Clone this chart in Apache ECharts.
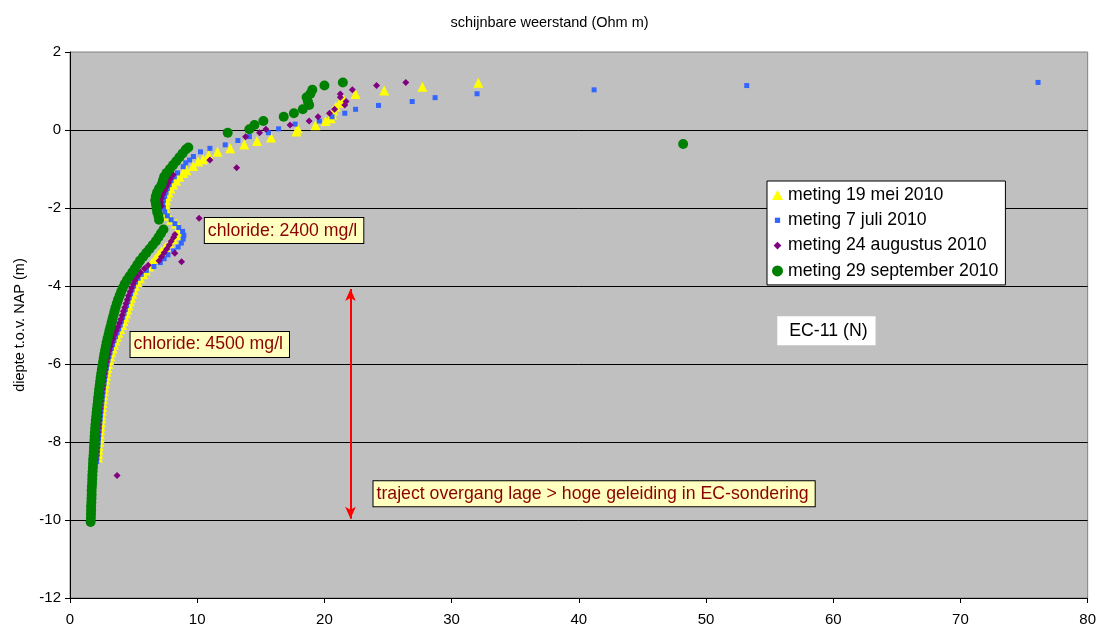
<!DOCTYPE html>
<html>
<head>
<meta charset="utf-8">
<script src="https://cdn.jsdelivr.net/npm/echarts@6/dist/echarts.min.js"></script>
<style>html,body{margin:0;padding:0;background:#fff}#c{width:1099px;height:637px}</style>
</head>
<body>
<div id="c"></div>
<script>
// ---- data: [schijnbare weerstand (Ohm m), diepte t.o.v. NAP (m)] ----
const seriesNames = ['meting 19 mei 2010', 'meting 7 juli 2010', 'meting 24 augustus 2010', 'meting 29 september 2010'];

const mei2010 = [
[2.2,-8.4],[2.22,-8.3],[2.25,-8.2],[2.27,-8.1],[2.3,-8.0],[2.32,-7.9],[2.35,-7.8],[2.37,-7.7],[2.4,-7.6],[2.42,-7.5],
[2.45,-7.4],[2.47,-7.3],[2.5,-7.2],[2.53,-7.1],[2.56,-7.0],[2.59,-6.9],[2.62,-6.8],[2.66,-6.7],[2.7,-6.6],[2.74,-6.5],
[2.78,-6.4],[2.83,-6.3],[2.88,-6.2],[2.94,-6.1],[3.0,-6.0],[3.08,-5.9],[3.16,-5.8],[3.25,-5.7],[3.35,-5.6],[3.45,-5.5],
[3.56,-5.4],[3.68,-5.3],[3.8,-5.2],[3.95,-5.1],[4.1,-5.0],[4.2,-4.9],[4.3,-4.8],[4.4,-4.7],[4.5,-4.6],[4.6,-4.5],
[4.7,-4.4],[4.8,-4.3],[4.9,-4.2],[5.0,-4.1],[5.1,-4.0],[5.3,-3.9],[5.5,-3.8],[5.75,-3.7],[5.95,-3.6],[6.2,-3.5],
[6.45,-3.4],[6.7,-3.3],[6.95,-3.2],[7.2,-3.1],[7.5,-3.0],[7.8,-2.9],[8.1,-2.8],[8.35,-2.7],[8.5,-2.6],[8.55,-2.5],
[8.35,-2.4],[7.95,-2.3],[7.7,-2.2],[7.55,-2.1],[7.5,-2.0],[7.5,-1.9],[7.55,-1.8],[7.65,-1.7],[7.75,-1.6],[7.9,-1.5],
[8.1,-1.4],[8.35,-1.3],[8.6,-1.2],[8.9,-1.1],[9.16,-1.03],[9.68,-0.92],[10.07,-0.81],[10.46,-0.75],[10.9,-0.64],[11.6,-0.56],
[12.6,-0.47],[13.7,-0.37],[14.7,-0.28],[15.8,-0.19],[17.8,-0.04],[17.9,0.04],[19.3,0.12],[20.1,0.23],[20.5,0.3],[20.6,0.4],
[20.7,0.5],[20.9,0.6],[21.2,0.7],[21.5,0.79],[22.45,0.92],[24.7,1.01],[27.7,1.11],[32.1,1.21]
];

const juli2010 = [
[2.1,-8.5],[2.12,-8.4],[2.15,-8.3],[2.17,-8.2],[2.2,-8.1],[2.22,-8.0],[2.25,-7.9],[2.27,-7.8],[2.3,-7.7],[2.32,-7.6],
[2.35,-7.5],[2.38,-7.4],[2.41,-7.3],[2.44,-7.2],[2.47,-7.1],[2.5,-7.0],[2.53,-6.9],[2.57,-6.8],[2.6,-6.7],[2.64,-6.6],
[2.68,-6.5],[2.72,-6.4],[2.77,-6.3],[2.81,-6.2],[2.86,-6.1],[2.92,-6.0],[2.99,-5.9],[3.07,-5.8],[3.15,-5.7],[3.25,-5.6],
[3.35,-5.5],[3.46,-5.4],[3.58,-5.3],[3.7,-5.2],[3.83,-5.1],[3.95,-5.0],[4.05,-4.9],[4.15,-4.8],[4.25,-4.7],[4.35,-4.6],
[4.45,-4.5],[4.55,-4.4],[4.66,-4.3],[4.77,-4.2],[4.88,-4.1],[5.0,-4.0],[5.15,-3.9],[5.35,-3.8],[5.6,-3.7],[6.0,-3.6],
[6.6,-3.5],[7.1,-3.4],[7.4,-3.3],[7.7,-3.2],[8.15,-3.1],[8.5,-3.0],[8.75,-2.9],[8.9,-2.8],[8.95,-2.7],[8.85,-2.6],
[8.55,-2.5],[8.25,-2.4],[7.95,-2.3],[7.65,-2.2],[7.45,-2.1],[7.35,-2.0],[7.3,-1.9],[7.35,-1.8],[7.45,-1.7],[7.55,-1.6],
[7.65,-1.5],[7.8,-1.4],[7.95,-1.3],[8.2,-1.2],[8.45,-1.1],[8.9,-0.94],[9.1,-0.84],[9.4,-0.77],[9.7,-0.68],[10.26,-0.56],
[11.0,-0.47],[12.2,-0.38],[13.2,-0.27],[14.1,-0.17],[15.6,-0.07],[16.4,0.03],[17.7,0.15],[19.6,0.23],[20.6,0.34],[21.6,0.43],
[22.45,0.53],[24.25,0.63],[26.9,0.73],[28.7,0.83],[32.0,0.93],[41.2,1.03],[53.2,1.14],[76.1,1.22]
];

const augustus2010 = [
[3.7,-8.86],
[2.02,-8.45],[2.05,-8.35],[2.08,-8.25],[2.1,-8.15],[2.12,-8.05],[2.14,-7.95],[2.17,-7.85],[2.19,-7.75],[2.22,-7.65],[2.25,-7.55],
[2.27,-7.45],[2.3,-7.35],[2.33,-7.25],[2.36,-7.15],[2.39,-7.05],[2.42,-6.95],[2.45,-6.85],[2.49,-6.75],[2.53,-6.65],[2.57,-6.55],
[2.61,-6.45],[2.65,-6.35],[2.7,-6.25],[2.75,-6.15],[2.81,-6.05],[2.87,-5.95],[2.94,-5.85],[3.01,-5.75],[3.09,-5.65],[3.18,-5.55],
[3.28,-5.45],[3.38,-5.35],[3.5,-5.25],[3.63,-5.15],[3.76,-5.05],[3.88,-4.95],[4.0,-4.85],[4.1,-4.75],[4.2,-4.65],[4.3,-4.55],
[4.4,-4.45],[4.5,-4.35],[4.6,-4.25],[4.72,-4.15],[4.84,-4.05],[4.97,-3.95],[5.1,-3.85],[5.3,-3.75],[5.55,-3.65],[5.85,-3.55],
[6.15,-3.47],[8.77,-3.38],[7.0,-3.35],[7.2,-3.25],[8.24,-3.16],[7.4,-3.15],[7.6,-3.05],[7.8,-2.95],[7.95,-2.85],[8.15,-2.75],
[8.25,-2.68],[10.15,-2.26],[7.2,-1.95],[7.15,-1.85],[7.2,-1.75],[7.3,-1.65],[7.45,-1.55],[7.6,-1.45],[7.75,-1.35],[7.9,-1.25],
[8.1,-1.15],[13.1,-0.97],[11.0,-0.77],[13.8,-0.17],[14.9,-0.07],[15.4,0.02],[17.3,0.13],[18.8,0.23],[19.5,0.34],[20.4,0.43],
[20.8,0.53],[21.6,0.64],[21.7,0.73],[21.25,0.84],[21.25,0.92],[22.2,1.03],[24.1,1.14],[26.4,1.22]
];

const september2010 = [
[1.62,-10.05],[1.64,-9.95],[1.65,-9.85],[1.66,-9.75],[1.66,-9.65],[1.68,-9.55],[1.69,-9.45],[1.7,-9.35],[1.7,-9.25],[1.72,-9.15],
[1.74,-9.05],[1.75,-8.95],[1.76,-8.85],[1.78,-8.75],[1.8,-8.65],[1.81,-8.55],[1.82,-8.45],[1.85,-8.35],[1.87,-8.25],[1.88,-8.15],
[1.9,-8.05],[1.92,-7.95],[1.94,-7.85],[1.96,-7.75],[1.98,-7.65],[2.0,-7.55],[2.03,-7.45],[2.06,-7.35],[2.09,-7.25],[2.12,-7.15],
[2.16,-7.05],[2.19,-6.95],[2.22,-6.85],[2.26,-6.75],[2.29,-6.65],[2.33,-6.55],[2.37,-6.45],[2.41,-6.35],[2.45,-6.25],[2.5,-6.15],
[2.55,-6.05],[2.6,-5.95],[2.65,-5.85],[2.7,-5.75],[2.76,-5.65],[2.82,-5.55],[2.88,-5.45],[2.95,-5.35],[3.03,-5.25],[3.1,-5.15],
[3.18,-5.05],[3.26,-4.95],[3.34,-4.85],[3.42,-4.75],[3.5,-4.65],[3.58,-4.55],[3.68,-4.45],[3.78,-4.35],[3.9,-4.25],[4.02,-4.15],
[4.15,-4.05],[4.3,-3.95],[4.48,-3.85],[4.68,-3.75],[4.9,-3.65],[5.1,-3.55],[5.3,-3.45],[5.5,-3.35],[5.75,-3.25],[6.0,-3.15],
[6.25,-3.05],[6.5,-2.95],[6.75,-2.85],[6.95,-2.75],[7.15,-2.65],[7.35,-2.55],
[7.0,-2.3],[6.95,-2.2],[6.85,-2.1],[6.8,-2.0],[6.75,-1.9],[6.7,-1.8],[6.75,-1.7],[6.85,-1.6],[7.0,-1.5],[7.2,-1.4],
[7.3,-1.3],[7.4,-1.2],[7.6,-1.1],[7.85,-1.0],[8.1,-0.9],[8.35,-0.8],[8.6,-0.7],[8.85,-0.6],[9.1,-0.5],[9.3,-0.45],
[48.2,-0.36],[12.4,-0.07],[14.1,0.02],[14.5,0.13],[15.2,0.23],[16.8,0.34],[17.6,0.43],[18.3,0.53],[18.8,0.64],[18.7,0.73],
[18.6,0.84],[18.9,0.93],[19.05,1.03],[20.0,1.14],[21.45,1.22]
];

// axis ticks
const xTicks = [0, 10, 20, 30, 40, 50, 60, 70, 80];
const yTicks = [-12, -10, -8, -6, -4, -2, 0, 2];

// annotations (anchor = left edge / centre-line of each box, in data units)
const annotTexts = ['chloride: 2400 mg/l', 'chloride: 4500 mg/l', 'traject overgang lage > hoge geleiding in EC-sondering'];
const annotPos = [[10.6, -2.58], [4.76, -5.5], [23.86, -9.33]];
const stationText = 'EC-11 (N)';
const stationPos = [55.6, -5.15];
const arrowX = 22.05;
const arrowY = [-4.08, -9.97];

const FONT = 'Liberation Sans, Arial, sans-serif';
const chart = echarts.init(document.getElementById('c'), null, {renderer: 'canvas'});

const annotBox = {
  show: true, position: 'right', distance: 0, color: '#8B0000', fontFamily: FONT, fontSize: 17.7,
  backgroundColor: '#FFFFC0', borderColor: '#000', borderWidth: 1, padding: [4, 6, 3, 3], opacity: 1
};

const annotData = annotTexts.map((t, i) => ({ name: t, value: annotPos[i], label: Object.assign({ formatter: t }, annotBox) }));
annotData.push({ name: stationText, value: stationPos, label: {
  show: true, position: 'right', distance: 0, formatter: stationText, color: '#000', fontFamily: FONT, fontSize: 17.7,
  backgroundColor: '#fff', padding: [6, 8, 5, 12], opacity: 1
}});

chart.setOption({
  animation: false,
  backgroundColor: '#fff',
  title: { text: 'schijnbare weerstand (Ohm m)', left: 'center', top: 10,
    textStyle: { fontFamily: FONT, fontSize: 14.5, fontWeight: 'normal', color: '#000' } },
  grid: { left: 70, right: 10, top: 52, bottom: 39, show: true, backgroundColor: '#C0C0C0', borderColor: '#808080', borderWidth: 1 },
  legend: {
    data: [
      { name: seriesNames[0], icon: 'path://M0,0M10,10M5,0.5L10,9.5L0,9.5Z' },
      { name: seriesNames[1], icon: 'path://M0,0M10,10M2.6,2.6h4.8v4.8h-4.8z' },
      { name: seriesNames[2], icon: 'path://M0,0M10,10M5,1.5L8.5,5L5,8.5L1.5,5Z' },
      { name: seriesNames[3], icon: 'circle' }
    ],
    orient: 'vertical', left: 767, top: 181, itemWidth: 11, itemHeight: 11, itemGap: 5.3,
    padding: [4, 7, 4, 5], backgroundColor: '#fff', borderColor: '#000', borderWidth: 1,
    selectedMode: false,
    textStyle: { fontFamily: FONT, fontSize: 17.7, color: '#000', lineHeight: 20, padding: [0, 0, 0, 0] }
  },
  xAxis: {
    type: 'value', min: xTicks[0], max: xTicks[xTicks.length - 1], interval: 10,
    axisLine: { onZero: false, lineStyle: { color: '#000', width: 1 } },
    axisTick: { show: true, inside: false, length: 5, lineStyle: { color: '#000' } },
    axisLabel: { color: '#000', fontFamily: FONT, fontSize: 15, margin: 14 },
    splitLine: { show: false }
  },
  yAxis: {
    type: 'value', min: yTicks[0], max: yTicks[yTicks.length - 1], interval: 2,
    name: 'diepte t.o.v. NAP (m)', nameLocation: 'middle', nameGap: 43, nameRotate: 90,
    nameTextStyle: { fontFamily: FONT, fontSize: 14.5, color: '#000' },
    axisLine: { onZero: false, lineStyle: { color: '#000', width: 1 } },
    axisTick: { show: true, inside: false, length: 5, lineStyle: { color: '#000' } },
    axisLabel: { color: '#000', fontFamily: FONT, fontSize: 15, margin: 9 },
    splitLine: { show: true, showMaxLine: false, showMinLine: false, lineStyle: { color: '#000', width: 1 } }
  },
  series: [
    { name: seriesNames[0], type: 'scatter', data: mei2010, symbol: 'triangle', symbolSize: 10,
      itemStyle: { color: '#FFFF00', opacity: 1 } },
    { name: seriesNames[1], type: 'scatter', data: juli2010, symbol: 'rect', symbolSize: 5,
      itemStyle: { color: '#3366FF', opacity: 1 } },
    { name: seriesNames[2], type: 'scatter', data: augustus2010, symbol: 'diamond', symbolSize: 7,
      itemStyle: { color: '#800080', opacity: 1 } },
    { name: seriesNames[3], type: 'scatter', data: september2010, symbol: 'circle', symbolSize: 10,
      itemStyle: { color: '#008000', opacity: 1 } },
    { name: 'annotaties', type: 'scatter', data: annotData, symbolSize: 0, silent: true, z: 10,
      itemStyle: { opacity: 1 },
      markLine: {
        silent: true, symbol: ['arrow', 'arrow'], symbolSize: [8, 12],
        lineStyle: { color: '#FF0000', width: 2, type: 'solid', opacity: 1 }, label: { show: false },
        data: [[{ coord: [arrowX, arrowY[0]] }, { coord: [arrowX, arrowY[1]] }]]
      } }
  ]
});
</script>
</body>
</html>
